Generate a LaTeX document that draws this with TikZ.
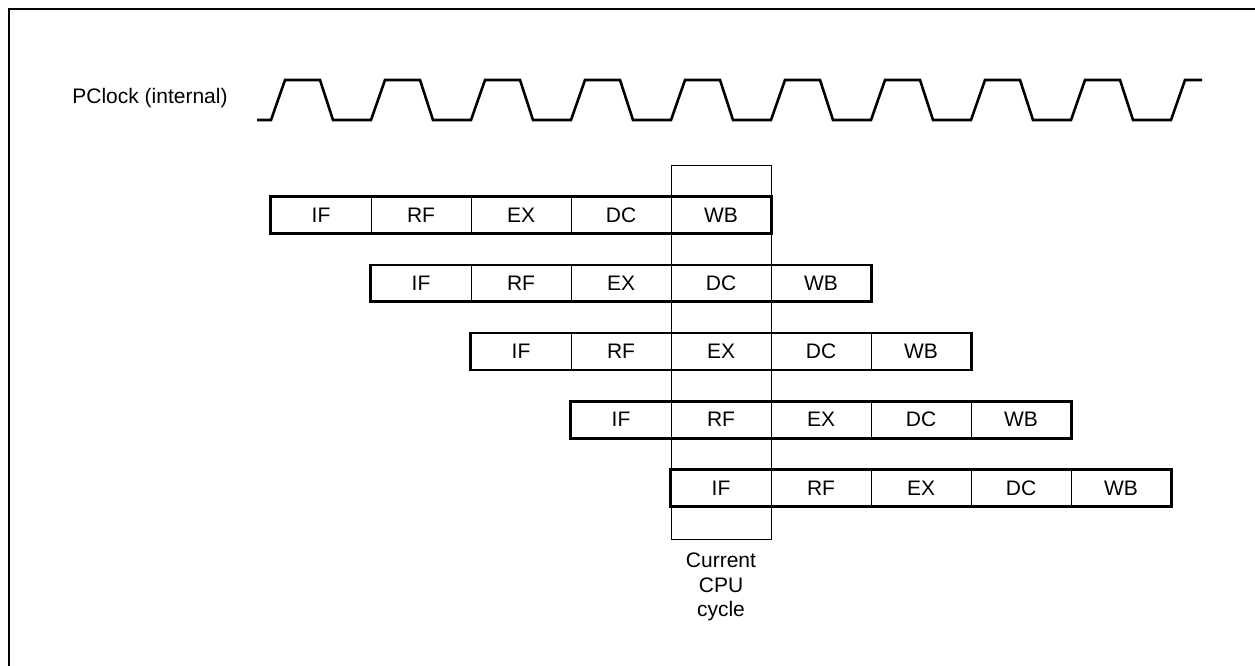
\documentclass[tikz,border=0pt]{standalone}
\usepackage{fontspec}
\setmainfont{Liberation Sans}
\begin{document}
\begin{tikzpicture}[x=1pt,y=-1pt,
  lbl/.style={font=\fontsize{21}{24.5}\selectfont, inner sep=0pt},
  cell/.style={draw, line width=0.9pt, minimum width=100pt, minimum height=36pt, inner sep=0pt, font=\fontsize{21}{24.5}\selectfont},
  rowbox/.style={draw, line width=2.6pt},
  clk/.style={line width=2.6pt, line join=miter},
  framel/.style={line width=2pt},
  cyclebox/.style={draw, line width=0.8pt}]
\useasboundingbox (0,0) rectangle (1255,665);
% frame (cut by the page edges)
\draw[framel] (9,670) -- (9,9) -- (1260,9);
% clock label
\node[lbl] (pclk) at (150,98) {PClock (internal)};
% clock waveform
\draw[clk] (257,120) -- (271,120)
  foreach \i in {0,...,8} { -- ({285+100*\i},80) -- ({320+100*\i},80) -- ({333+100*\i},120) -- ({371+100*\i},120) }
  -- (1185,80) -- (1202,80);
% current cycle box
\draw[cyclebox] (671,165) rectangle (771,539);
% pipeline rows
\foreach \r in {0,...,4} {
  \foreach \s [count=\c from 0] in {IF,RF,EX,DC,WB} {
    \node[cell] (r\r c\c) at ({321+100*\r+100*\c},{215+68.25*\r}) {\s};
  }
  \draw[rowbox] (r\r c0.north west) rectangle (r\r c4.south east);
}
% cycle label
\node[lbl, align=center] (cyc) at (721,587) {Current\\CPU\\cycle};
\end{tikzpicture}
\end{document}
